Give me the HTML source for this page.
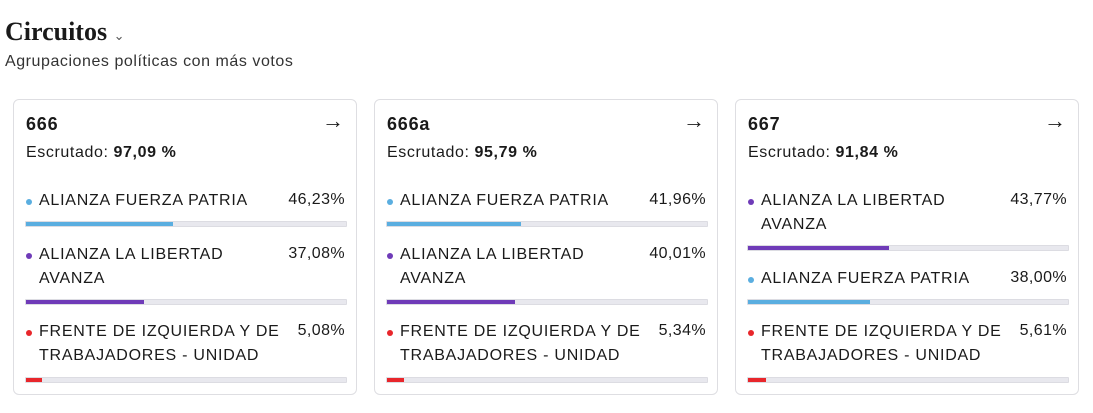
<!DOCTYPE html>
<html><head><meta charset="utf-8"><style>
*{margin:0;padding:0;box-sizing:border-box}
body{width:1093px;height:413px;background:#fff;font-family:"Liberation Sans",sans-serif;color:#1a1a1a;position:relative;overflow:hidden}
.t{position:absolute;white-space:nowrap}
.h1{left:5px;top:17px;font-family:"Liberation Serif",serif;font-weight:bold;font-size:26px}
.sub{left:5px;top:53px;font-size:16px;letter-spacing:0.55px;color:#333}
.card{position:absolute;top:99px;width:344px;height:296px;border:1px solid #dedee2;border-radius:6px}
.num{left:12px;top:14px;font-weight:bold;font-size:18px;letter-spacing:0.8px}
.arr{right:12px;top:8px;font-size:22px}
.esc{left:12px;top:44px;font-size:16px;letter-spacing:0.6px}
.lab{left:25px;font-size:16px;letter-spacing:0.75px;line-height:24px;white-space:normal;width:250px}
.pct{right:11px;font-size:16px;letter-spacing:0.4px}
.dot{position:absolute;left:12px;width:6px;height:6px;border-radius:50%}
.bar{position:absolute;left:11px;width:322px;height:6px;background:#e8e8ee;border:1px solid #dcdce2;border-radius:1px}
.bar i{display:block;height:100%}
</style></head><body>
<div class="t h1">Circuitos <span style="font-family:'Liberation Sans';font-weight:normal;font-size:13px;color:#555">⌄</span></div>
<div class="t sub">Agrupaciones políticas con más votos</div>

<div class="card" style="left:13px">
<div class="t num">666</div><div class="t arr">→</div>
<div class="t esc">Escrutado: <b>97,09 %</b></div>
<div class="dot" style="top:99px;background:#5aaee0"></div><div class="t lab" style="top:89px">ALIANZA FUERZA PATRIA</div><div class="t pct" style="top:91px">46,23%</div>
<div class="bar" style="top:121px"><i style="width:46%;background:#5aaee0"></i></div>
<div class="dot" style="top:153px;background:#6f3bb8"></div><div class="t lab" style="top:143px">ALIANZA LA LIBERTAD AVANZA</div><div class="t pct" style="top:145px">37,08%</div>
<div class="bar" style="top:199px"><i style="width:37%;background:#6f3bb8"></i></div>
<div class="dot" style="top:230px;background:#e8262b"></div><div class="t lab" style="top:220px">FRENTE DE IZQUIERDA Y DE TRABAJADORES - UNIDAD</div><div class="t pct" style="top:222px">5,08%</div>
<div class="bar" style="top:277px"><i style="width:5%;background:#e8262b"></i></div>
</div>

<div class="card" style="left:374px">
<div class="t num">666a</div><div class="t arr">→</div>
<div class="t esc">Escrutado: <b>95,79 %</b></div>
<div class="dot" style="top:99px;background:#5aaee0"></div><div class="t lab" style="top:89px">ALIANZA FUERZA PATRIA</div><div class="t pct" style="top:91px">41,96%</div>
<div class="bar" style="top:121px"><i style="width:42%;background:#5aaee0"></i></div>
<div class="dot" style="top:153px;background:#6f3bb8"></div><div class="t lab" style="top:143px">ALIANZA LA LIBERTAD AVANZA</div><div class="t pct" style="top:145px">40,01%</div>
<div class="bar" style="top:199px"><i style="width:40%;background:#6f3bb8"></i></div>
<div class="dot" style="top:230px;background:#e8262b"></div><div class="t lab" style="top:220px">FRENTE DE IZQUIERDA Y DE TRABAJADORES - UNIDAD</div><div class="t pct" style="top:222px">5,34%</div>
<div class="bar" style="top:277px"><i style="width:5.3%;background:#e8262b"></i></div>
</div>

<div class="card" style="left:735px">
<div class="t num">667</div><div class="t arr">→</div>
<div class="t esc">Escrutado: <b>91,84 %</b></div>
<div class="dot" style="top:99px;background:#6f3bb8"></div><div class="t lab" style="top:89px">ALIANZA LA LIBERTAD AVANZA</div><div class="t pct" style="top:91px">43,77%</div>
<div class="bar" style="top:145px"><i style="width:44%;background:#6f3bb8"></i></div>
<div class="dot" style="top:177px;background:#5aaee0"></div><div class="t lab" style="top:167px">ALIANZA FUERZA PATRIA</div><div class="t pct" style="top:169px">38,00%</div>
<div class="bar" style="top:199px"><i style="width:38%;background:#5aaee0"></i></div>
<div class="dot" style="top:230px;background:#e8262b"></div><div class="t lab" style="top:220px">FRENTE DE IZQUIERDA Y DE TRABAJADORES - UNIDAD</div><div class="t pct" style="top:222px">5,61%</div>
<div class="bar" style="top:277px"><i style="width:5.6%;background:#e8262b"></i></div>
</div>
</body></html>
